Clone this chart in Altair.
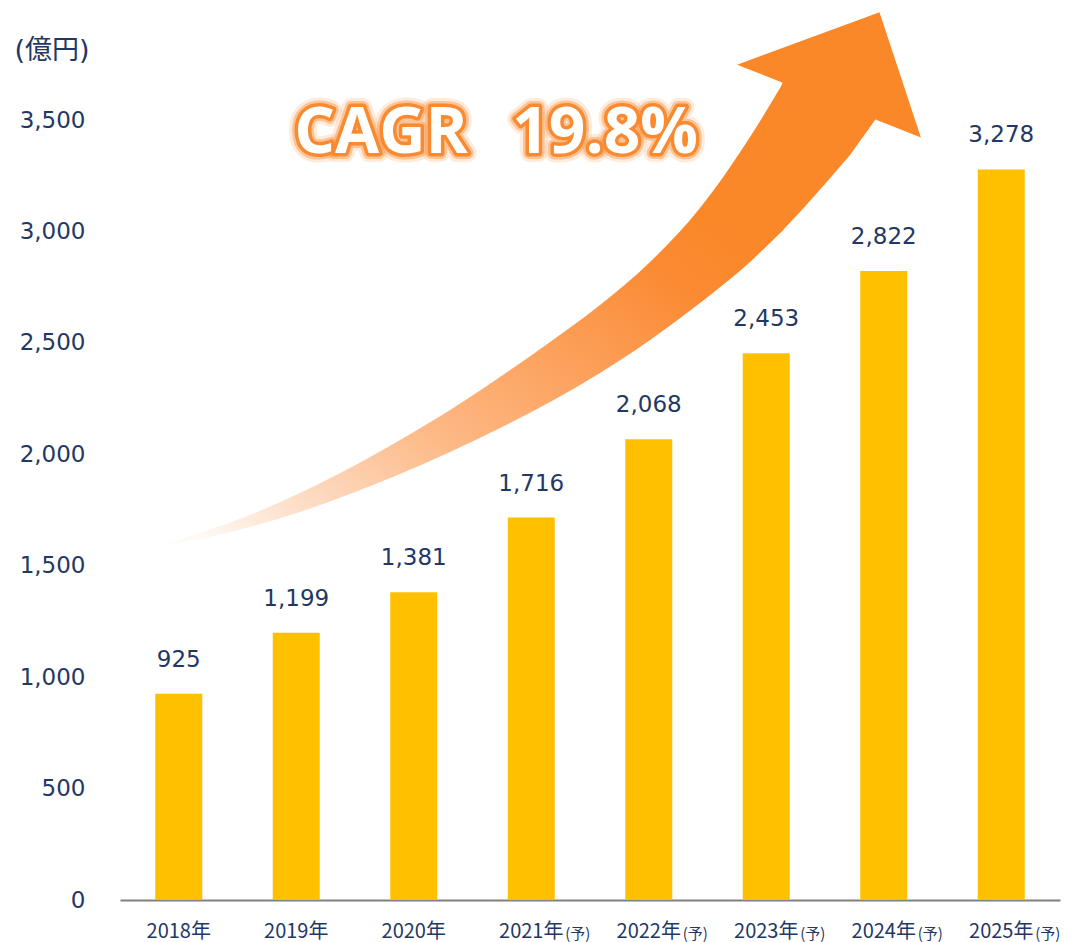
import altair as alt
import pandas as pd

# ---- data ----
years = ["2018年", "2019年", "2020年", "2021年", "2022年", "2023年", "2024年", "2025年"]
values = [925, 1199, 1381, 1716, 2068, 2453, 2822, 3278]
forecast = [False, False, False, True, True, True, True, True]
y_ticks = [0, 500, 1000, 1500, 2000, 2500, 3000, 3500]

# decorative growth arrow, in chart units (x: category slot, y: 億円)
body_x = [0.281, 0.681, 1.106, 1.532, 1.957, 2.383, 2.809, 3.234, 3.660, 4.085, 4.511, 4.936, 5.362, 5.643]
body_top = [1584, 1647, 1728, 1826, 1938, 2064, 2199, 2347, 2504, 2670, 2863, 3105, 3424, 3666]
body_bot = [1584, 1620, 1674, 1741, 1822, 1912, 2010, 2118, 2235, 2365, 2513, 2679, 2863, 3006]
neck_x = [5.600, 5.643, 5.787, 6.000, 6.213, 6.426]
neck_top = [3600, 3675, 3644, 3599, 3554, 3509]
neck_bot = [2985, 3006, 3087, 3213, 3343, 3500]
head_x = [6.034]
head_y = [3585]
cagr_text = ["CAGR", "19.8%"]
cagr_x = [2.221, 4.128]
cagr_y = [3439, 3439]

NAVY = "#1F3864"
BAR = "#FFC000"
ORANGE = "#FA8828"
HEAD_PATH = "M 0.50 -0.88 L 0.91 0.36 L -0.91 -0.36 Z"

df = pd.DataFrame({"year": years, "value": values, "forecast": forecast})
body_df = pd.DataFrame({"ax": body_x, "ay": body_top, "ay2": body_bot})
neck_df = pd.DataFrame({"ax": neck_x, "ay": neck_top, "ay2": neck_bot})
head_df = pd.DataFrame({"ax": head_x, "ay": head_y})
cagr_df = pd.DataFrame({"ax": cagr_x, "ay": cagr_y, "t": cagr_text})

x_band = alt.X(
    "year:N",
    sort=years,
    scale=alt.Scale(paddingInner=0.6, paddingOuter=0.3),
    axis=alt.Axis(
        title=None, labelAngle=0, ticks=False, tickSize=0, domain=True,
        domainColor="#808080", domainWidth=2, labelPadding=31,
        labelBaseline="middle", labelFont="Noto Sans CJK JP", labelFontSize=20,
        labelColor=NAVY,
    ),
)
y_axis = alt.Axis(
    values=y_ticks, format=",", labelExpr="format(datum.value, ',')",
    grid=False, domain=False, ticks=False, tickSize=0,
    labelPadding=35, labelFont="DejaVu Sans", labelFontSize=23, labelColor=NAVY,
    title="(億円)", titleAngle=0, titleX=-106, titleY=-70, titleAlign="left",
    titleBaseline="middle", titleFont="DejaVu Sans, Noto Sans CJK JP",
    titleFontSize=27, titleFontWeight="normal", titleColor=NAVY,
)
y_scale = alt.Scale(domain=[0, 3500], nice=False)

bars = alt.Chart(df).mark_bar(color=BAR).encode(
    x=x_band, y=alt.Y("value:Q", scale=y_scale, axis=y_axis)
)
labels = alt.Chart(df).mark_text(
    dy=-34, font="DejaVu Sans", fontSize=23, color=NAVY, baseline="middle"
).encode(
    x=alt.X("year:N", sort=years),
    y=alt.Y("value:Q", scale=y_scale, axis=y_axis),
    text=alt.Text("value:Q", format=","),
)
yo = alt.Chart(df).transform_filter("datum.forecast").transform_calculate(
    base="0"
).mark_text(
    align="left", baseline="middle", dx=34, dy=34, fontSize=15,
    font="Noto Sans CJK JP", color=NAVY,
).encode(
    x=alt.X("year:N", sort=years),
    y=alt.Y("base:Q", scale=y_scale, axis=y_axis),
    text=alt.value("(予)"),
)

base = alt.layer(bars, labels, yo)

ax = alt.X("ax:Q", scale=alt.Scale(domain=[0, 8], nice=False, zero=False), axis=None)
ay = alt.Y("ay:Q", scale=alt.Scale(domain=[0, 3500], nice=False), axis=None)

grad = alt.Gradient(
    gradient="linear",
    stops=[
        alt.GradientStop(color="#FFFFFF", offset=0),
        alt.GradientStop(color="#FFF6EF", offset=0.06),
        alt.GradientStop(color="#FDDEC8", offset=0.16),
        alt.GradientStop(color="#FDB884", offset=0.35),
        alt.GradientStop(color="#FC9A50", offset=0.58),
        alt.GradientStop(color="#FB8A33", offset=0.70),
        alt.GradientStop(color=ORANGE, offset=0.80),
        alt.GradientStop(color=ORANGE, offset=1),
    ],
    x1=0, y1=1, x2=1, y2=0,
)

body = alt.Chart(body_df).mark_area(color=grad, opacity=1, interpolate="monotone").encode(
    x=ax, y=ay, y2="ay2:Q"
)
neck = alt.Chart(neck_df).mark_area(color=ORANGE, opacity=1, interpolate="linear").encode(
    x=ax, y=ay, y2="ay2:Q"
)
head = alt.Chart(head_df).mark_point(
    shape=HEAD_PATH, size=40804, filled=True, color=ORANGE, opacity=1, strokeWidth=0
).encode(x=ax, y=ay)

def cagr_layer(**kw):
    return alt.Chart(cagr_df).mark_text(
        font="Open Sans", fontSize=64, fontWeight="bold", baseline="middle",
        align="center", **kw
    ).encode(x=ax, y=ay, text="t:N")

glow1 = cagr_layer(fill="#FFFFFF", stroke="#FB9A50", strokeWidth=18, strokeOpacity=0.2, strokeJoin="round")
glow2 = cagr_layer(fill="#FFFFFF", stroke="#FB9443", strokeWidth=12, strokeOpacity=0.45, strokeJoin="round")
glow3 = cagr_layer(fill="#FFFFFF", stroke="#FA8A30", strokeWidth=7, strokeOpacity=1, strokeJoin="round")
white = cagr_layer(fill="#FFFFFF")

arrow = alt.layer(body, neck, head, glow1, glow2, glow3, white)

chart = (
    alt.layer(base, arrow)
    .resolve_scale(x="independent", y="independent")
    .properties(
        width=940, height=780,
        padding={"left": 112, "top": 112, "right": 5, "bottom": 42},
        autosize=alt.AutoSizeParams(type="none"),
        background="white",
    )
    .configure_view(stroke=None)
)

chart.save("out.html", embed_options={"renderer": "svg", "actions": False})
